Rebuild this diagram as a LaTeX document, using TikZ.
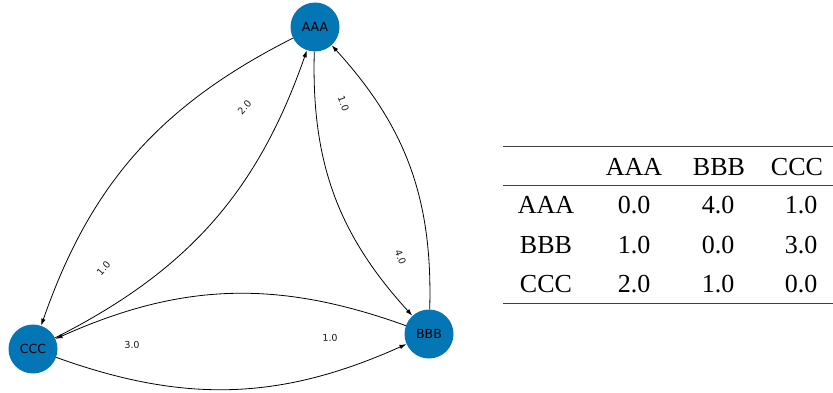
\documentclass[tikz,border=0pt]{standalone}
\usepackage{fontspec}
\setmainfont{Liberation Serif}
\newfontfamily\graphfont{DejaVu Sans}
\usetikzlibrary{arrows.meta}

\definecolor{nodeblue}{RGB}{4,118,182}

\begin{document}
\begin{tikzpicture}[x=1pt,y=1pt,>={Latex[length=7pt,width=4.5pt]},
	vertex/.style={circle,fill=nodeblue,minimum size=49pt,inner sep=0pt,
		font=\graphfont\fontsize{12.5}{14}\selectfont},
	edge/.style={->,line width=0.8pt,bend right=22},
	weight/.style={sloped,inner sep=1pt,text=black!90,
		font=\graphfont\fontsize{9.5}{11}\selectfont},
	cell/.style={anchor=base,inner sep=0pt,font=\fontsize{26}{30}\selectfont},
	rule/.style={black!75,line width=1pt}]
	\useasboundingbox (0,0) rectangle (833,392);
	
	% Vertices
	\node[vertex] (AAA) at (315,365) {AAA};
	\node[vertex] (BBB) at (429,58) {BBB};
	\node[vertex] (CCC) at (33,43) {CCC};
	
	% Edges
	\foreach \from/\to in {AAA/CCC,CCC/AAA,AAA/BBB,BBB/AAA,BBB/CCC,CCC/BBB}
	\draw[edge] (\from) to (\to);
	
	% Edge weights
	\foreach \from/\to/\w in {AAA/CCC/1.0,CCC/AAA/2.0,AAA/BBB/4.0,BBB/AAA/1.0,BBB/CCC/3.0,CCC/BBB/1.0}
	\path (\from.center) -- node[weight,pos=0.75] (w\from\to) {\w} (\to.center);
	
	% Table rules
	\coordinate (tl) at (503,246);
	\coordinate (tr) at (833,246);
	\coordinate (ml) at (503,206.5);
	\coordinate (mr) at (833,206.5);
	\coordinate (bl) at (503,89);
	\coordinate (br) at (833,89);
	\draw[rule] (tl) -- (tr);
	\draw[rule,line width=0.7pt] (ml) -- (mr);
	\draw[rule] (bl) -- (br);
	
	% Table header
	\foreach \name/\x in {AAA/634,BBB/719,CCC/797}
	\node[cell] (h\name) at (\x,217) {\name};
	
	% Table rows
	\foreach \name/\y/\a/\b/\c in {AAA/179/0.0/4.0/1.0,BBB/139/1.0/0.0/3.0,CCC/100/2.0/1.0/0.0}{
		\node[cell] (r\name) at (546,\y) {\name};
		\node[cell] (\name-a) at (634,\y) {\a};
		\node[cell] (\name-b) at (718,\y) {\b};
		\node[cell] (\name-c) at (801,\y) {\c};
	}
\end{tikzpicture}
\end{document}
